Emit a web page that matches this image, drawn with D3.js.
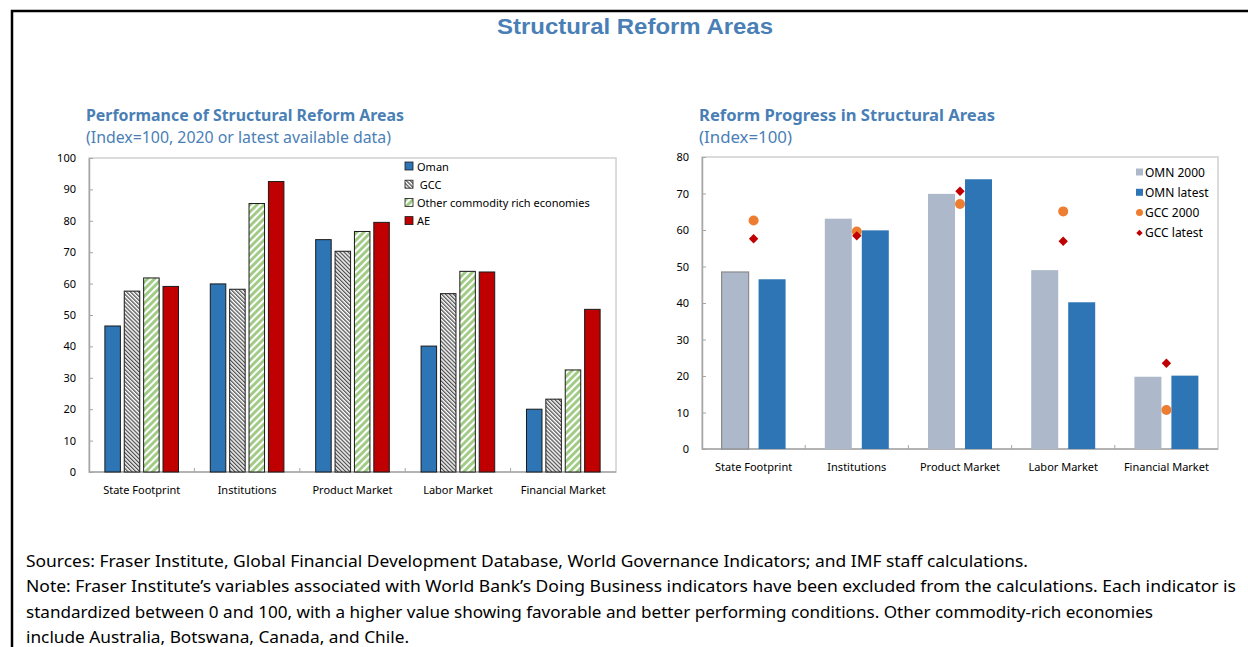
<!DOCTYPE html>
<html>
<head>
<meta charset="utf-8">
<script src="https://cdn.jsdelivr.net/npm/d3@7"></script>
<style>
  body { margin: 0; background: #fff; }
  svg { display: block; }
</style>
</head>
<body>
<svg id="chart" width="1248" height="647"></svg>
<script>
// Data
const categories = ["State Footprint", "Institutions", "Product Market", "Labor Market", "Financial Market"]

// Left panel: performance (index = 100)
const perfSeries = ["Oman", " GCC", "Other commodity rich economies", "AE"]
const omanPerf = [46.5, 59.9, 74.0, 40.1, 20.0]
const gccPerf = [57.6, 58.2, 70.3, 56.8, 23.2]
const otherPerf = [61.8, 85.5, 76.6, 63.9, 32.5]
const aePerf = [59.1, 92.5, 79.5, 63.7, 51.8]
const perfTicks = [0, 10, 20, 30, 40, 50, 60, 70, 80, 90, 100]

// Right panel: progress (index = 100)
const progSeries = ["OMN 2000", "OMN latest", "GCC 2000", "GCC latest"]
const omn2000 = [48.5, 63.1, 69.9, 49.0, 19.8]
const omnLatest = [46.5, 59.9, 73.9, 40.2, 20.1]
const gcc2000 = [62.6, 59.6, 67.1, 65.1, 10.7]
const gccLatest = [57.6, 58.4, 70.6, 56.9, 23.5]
const progTicks = [0, 10, 20, 30, 40, 50, 60, 70, 80]

const notes = [
  "Sources: Fraser Institute, Global Financial Development Database, World Governance Indicators; and IMF staff calculations.",
  "Note: Fraser Institute\u2019s variables associated with World Bank\u2019s Doing Business indicators have been excluded from the calculations. Each indicator is",
  "standardized between 0 and 100, with a higher value showing favorable and better performing conditions. Other commodity-rich economies",
  "include Australia, Botswana, Canada, and Chile."
]

// Styles
const font = "'Noto Sans', 'Open Sans', sans-serif"
const titleColor = "#4a7fb6"
const blue = "#2e75b6"
const red = "#c00000"
const greyBlue = "#adb9ca"
const orange = "#ed7d31"
const axisGrey = "#a6a6a6"

const svg = d3.select("#chart")

// Hatch patterns
const defs = svg.append("defs")
defs.append("pattern")
  .attr("id", "gccHatch")
  .attr("patternUnits", "userSpaceOnUse")
  .attr("width", 2.8).attr("height", 2.8)
  .attr("patternTransform", "rotate(-45)")
  .call(p => {
    p.append("rect").attr("width", 2.8).attr("height", 2.8).attr("fill", "#fff")
    p.append("line").attr("x1", 0.7).attr("y1", 0).attr("x2", 0.7).attr("y2", 2.8)
      .attr("stroke", "#262626").attr("stroke-width", 1.05)
  })
defs.append("pattern")
  .attr("id", "greenHatch")
  .attr("patternUnits", "userSpaceOnUse")
  .attr("width", 5).attr("height", 5)
  .attr("patternTransform", "rotate(45)")
  .call(p => {
    p.append("rect").attr("width", 5).attr("height", 5).attr("fill", "#fff")
    p.append("line").attr("x1", 1.5).attr("y1", 0).attr("x2", 1.5).attr("y2", 5)
      .attr("stroke", "#9cc97f").attr("stroke-width", 2.8)
  })

// Outer frame
svg.append("rect")
  .attr("x", 12).attr("y", 11)
  .attr("width", 1260).attr("height", 660)
  .attr("fill", "none").attr("stroke", "#000").attr("stroke-width", 2.5)

// Main title
svg.append("text")
  .attr("x", 635).attr("y", 34)
  .attr("text-anchor", "middle")
  .attr("font-family", "'Liberation Sans', Arial, sans-serif")
  .attr("font-weight", "bold")
  .attr("font-size", 22)
  .attr("fill", titleColor)
  .attr("textLength", 276).attr("lengthAdjust", "spacingAndGlyphs")
  .text("Structural Reform Areas")

// Panel titles
function panelTitle(x, title, titleLen, sub, subLen) {
  svg.append("text")
    .attr("x", x).attr("y", 121)
    .attr("font-family", font).attr("font-weight", "bold").attr("font-size", 15.5)
    .attr("fill", titleColor)
    .attr("textLength", titleLen).attr("lengthAdjust", "spacingAndGlyphs")
    .text(title)
  svg.append("text")
    .attr("x", x).attr("y", 143)
    .attr("font-family", font).attr("font-size", 15.5)
    .attr("fill", titleColor)
    .attr("textLength", subLen).attr("lengthAdjust", "spacingAndGlyphs")
    .text(sub)
}
panelTitle(86, "Performance of Structural Reform Areas", 318, "(Index=100, 2020 or latest available data)", 305)
panelTitle(699, "Reform Progress in Structural Areas", 296, "(Index=100)", 93)

// Shared frame: box, y axis, category ticks, labels
function panelFrame(box, y, ticks, labelY) {
  const x = d3.scaleBand().domain(categories).range([box.left, box.right]).padding(0)
  const g = svg.append("g")

  g.append("rect")
    .attr("x", box.left).attr("y", box.top)
    .attr("width", box.right - box.left).attr("height", box.bottom - box.top)
    .attr("fill", "none").attr("stroke", "#d0d0d0").attr("stroke-width", 1.5)

  g.append("g")
    .attr("transform", `translate(${box.left},0)`)
    .call(d3.axisLeft(y).tickValues(ticks).tickSizeInner(-4).tickSizeOuter(0).tickPadding(13))
    .call(a => a.select(".domain").attr("stroke", axisGrey).attr("stroke-width", 1.5))
    .call(a => a.selectAll(".tick line").attr("stroke", axisGrey))
    .call(a => a.selectAll(".tick text")
      .attr("font-family", font).attr("font-size", 11).attr("fill", "#000"))

  g.append("line")
    .attr("x1", box.left).attr("x2", box.right)
    .attr("y1", y(0)).attr("y2", y(0))
    .attr("stroke", axisGrey).attr("stroke-width", 1.5)

  g.selectAll(".cat-tick")
    .data(categories.slice(1))
    .join("line")
    .attr("x1", d => x(d)).attr("x2", d => x(d))
    .attr("y1", y(0)).attr("y2", y(0) - 4)
    .attr("stroke", axisGrey)

  g.selectAll(".cat-label")
    .data(categories)
    .join("text")
    .attr("x", d => x(d) + x.bandwidth() / 2)
    .attr("y", labelY)
    .attr("text-anchor", "middle")
    .attr("font-family", font).attr("font-size", 11).attr("fill", "#000")
    .text(d => d)

  return x
}

// Left panel
{
  const box = { left: 89, right: 616, top: 158, bottom: 472 }
  const y = d3.scaleLinear().domain([0, 100]).range([box.bottom, box.top])
  const x = panelFrame(box, y, perfTicks, 494)
  const x1 = d3.scaleBand().domain(perfSeries).range([0, x.bandwidth()])
    .paddingInner(0.2).paddingOuter(0.82)
  const values = [omanPerf, gccPerf, otherPerf, aePerf]
  const fills = [blue, "url(#gccHatch)", "url(#greenHatch)", red]

  const rows = categories.flatMap((c, i) => perfSeries.map((s, j) => ({ c, s, j, v: values[j][i] })))
  svg.append("g")
    .selectAll("rect")
    .data(rows)
    .join("rect")
    .attr("x", d => x(d.c) + x1(d.s))
    .attr("y", d => y(d.v))
    .attr("width", x1.bandwidth())
    .attr("height", d => y(0) - y(d.v))
    .attr("fill", d => fills[d.j])
    .attr("stroke", "#1a1a1a").attr("stroke-width", 1)

  const legend = svg.append("g").attr("transform", "translate(405,162)")
  legend.selectAll("g")
    .data(perfSeries)
    .join("g")
    .attr("transform", (d, i) => `translate(0,${i * 18.2})`)
    .each(function (d, i) {
      const item = d3.select(this)
      item.append("rect")
        .attr("x", 0).attr("y", 0).attr("width", 8).attr("height", 8)
        .attr("fill", fills[i]).attr("stroke", "#1a1a1a").attr("stroke-width", 0.8)
      item.append("text")
        .attr("x", 12).attr("y", 4)
        .attr("dominant-baseline", "central")
        .attr("font-family", font).attr("font-size", 11).attr("fill", "#000")
        .attr("xml:space", "preserve")
        .text(d)
    })
}

// Right panel
{
  const box = { left: 702, right: 1218, top: 157, bottom: 449 }
  const y = d3.scaleLinear().domain([0, 80]).range([box.bottom, box.top])
  const x = panelFrame(box, y, progTicks, 471)
  const barSeries = progSeries.slice(0, 2)
  const x1 = d3.scaleBand().domain(barSeries).range([0, x.bandwidth()])
    .paddingInner(0.27).paddingOuter(0.53)
  const barValues = [omn2000, omnLatest]
  const barFills = [greyBlue, blue]

  const rows = categories.flatMap((c, i) => barSeries.map((s, j) => ({ c, s, j, v: barValues[j][i] })))
  svg.append("g")
    .selectAll("rect")
    .data(rows)
    .join("rect")
    .attr("x", d => x(d.c) + x1(d.s))
    .attr("y", d => y(d.v))
    .attr("width", x1.bandwidth())
    .attr("height", d => y(0) - y(d.v))
    .attr("fill", d => barFills[d.j])
    .attr("stroke", d => (d.j === 0 && d.c === categories[0]) ? "#8c8c8c" : "none")
    .attr("stroke-width", 1.2)

  const cx = c => x(c) + x.bandwidth() / 2
  svg.append("g")
    .selectAll("circle")
    .data(categories.map((c, i) => ({ c, v: gcc2000[i] })))
    .join("circle")
    .attr("cx", d => cx(d.c)).attr("cy", d => y(d.v))
    .attr("r", 5).attr("fill", orange)

  // Diamonds: squares turned 45 degrees
  const diamond = d3.symbol().type(d3.symbolSquare).size(44)
  svg.append("g")
    .selectAll("path")
    .data(categories.map((c, i) => ({ c, v: gccLatest[i] })))
    .join("path")
    .attr("transform", d => `translate(${cx(d.c)},${y(d.v)}) rotate(45)`)
    .attr("d", diamond).attr("fill", red)

  const legend = svg.append("g").attr("transform", "translate(1136,172)")
  legend.selectAll("g")
    .data(progSeries)
    .join("g")
    .attr("transform", (d, i) => `translate(0,${i * 20.3})`)
    .each(function (d, i) {
      const item = d3.select(this)
      if (i < 2) {
        item.append("rect").attr("x", 0).attr("y", -3.5).attr("width", 7).attr("height", 7)
          .attr("fill", barFills[i])
      } else if (i === 2) {
        item.append("circle").attr("cx", 3.5).attr("cy", 0).attr("r", 3.5).attr("fill", orange)
      } else {
        item.append("path").attr("transform", "translate(3.5,0) rotate(45)")
          .attr("d", d3.symbol().type(d3.symbolSquare).size(20)).attr("fill", red)
      }
      item.append("text")
        .attr("x", 9).attr("y", 0)
        .attr("dominant-baseline", "central")
        .attr("font-family", font).attr("font-size", 12).attr("fill", "#000")
        .text(d)
    })
}

// Footnotes
const noteLens = [1002, 1210, 1127, 383]
svg.append("g")
  .selectAll("text")
  .data(notes)
  .join("text")
  .attr("x", 26)
  .attr("y", (d, i) => 567 + i * 25.3)
  .attr("font-family", font).attr("font-size", 16).attr("fill", "#000")
  .attr("textLength", (d, i) => noteLens[i]).attr("lengthAdjust", "spacingAndGlyphs")
  .text(d => d)
</script>
</body>
</html>
